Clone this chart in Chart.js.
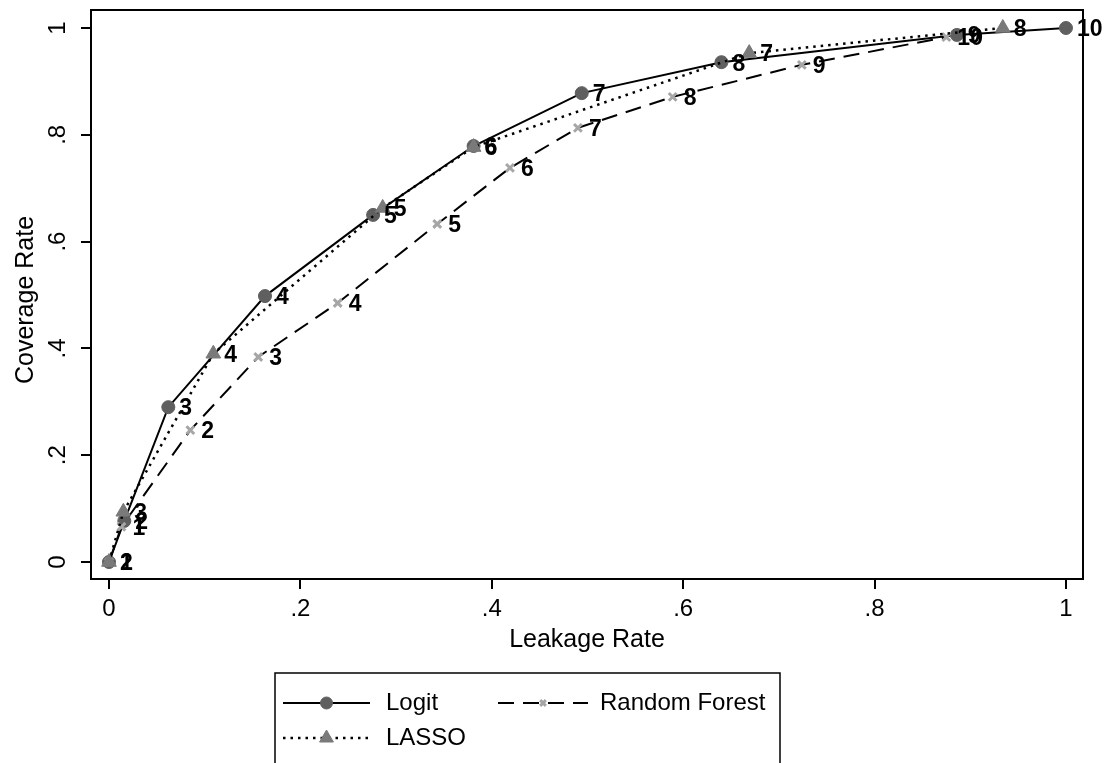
<!DOCTYPE html>
<html>
<head>
<meta charset="utf-8">
<script src="https://cdn.jsdelivr.net/npm/chart.js@4.4.1/dist/chart.umd.min.js"></script>
<style>
  html, body { margin: 0; padding: 0; background: #fff; }
  #wrap { width: 1109px; height: 763px; }
</style>
</head>
<body>
<div id="wrap"><canvas id="rocChart" width="1109" height="763"></canvas></div>
<script>
// --- DATA ---
const logitX = [0, 0.016, 0.062, 0.163, 0.276, 0.381, 0.494, 0.640, 0.886, 1.0];
const logitY = [0, 0.077, 0.290, 0.498, 0.650, 0.779, 0.878, 0.936, 0.987, 1.0];
const logitLabels = ['1', '2', '3', '4', '5', '6', '7', '8', '9', '10'];

const lassoX = [0, 0.015, 0.109, 0.286, 0.381, 0.669, 0.934];
const lassoY = [0, 0.094, 0.390, 0.663, 0.777, 0.953, 1.0];
const lassoLabels = ['2', '3', '4', '5', '6', '7', '8'];

const rfX = [0, 0.013, 0.085, 0.156, 0.239, 0.343, 0.419, 0.490, 0.589, 0.724, 0.875];
const rfY = [0, 0.066, 0.247, 0.384, 0.485, 0.633, 0.738, 0.813, 0.871, 0.931, 0.983];
const rfLabels = ['', '1', '2', '3', '4', '5', '6', '7', '8', '9', '10'];

const tickValues = [0, 0.2, 0.4, 0.6, 0.8, 1];
const tickText = ['0', '.2', '.4', '.6', '.8', '1'];

const FONT = '"Liberation Sans", Arial, sans-serif';

function toPoints(xs, ys) {
    return xs.map((x, i) => ({ x: x, y: ys[i] }));
}

// --- PLUGIN: frame, rotated y ticks, axis titles, marker labels, legend ---
const stataPlugin = {
    id: 'stataLook',
    afterDatasetsDraw(chart) {
        const ctx = chart.ctx;
        const xs = chart.scales.x;
        const ys = chart.scales.y;

        // marker labels (to the right of each point)
        ctx.save();
        ctx.fillStyle = '#000';
        ctx.font = 'bold 23px ' + FONT;
        ctx.textAlign = 'left';
        ctx.textBaseline = 'middle';
        chart.data.datasets.forEach(ds => {
            ds.data.forEach((p, i) => {
                const lab = ds.pointLabels[i];
                if (!lab) return;
                ctx.fillText(lab, xs.getPixelForValue(p.x) + 11, ys.getPixelForValue(p.y) + 2);
            });
        });
        ctx.restore();
    },
    afterDraw(chart) {
        const ctx = chart.ctx;
        const area = chart.chartArea;
        const ys = chart.scales.y;

        ctx.save();
        // plot frame
        ctx.strokeStyle = '#000';
        ctx.lineWidth = 2;
        ctx.strokeRect(area.left, area.top, area.right - area.left, area.bottom - area.top);

        // y tick labels, rotated
        ctx.fillStyle = '#000';
        ctx.font = '24px ' + FONT;
        ctx.textAlign = 'center';
        ctx.textBaseline = 'middle';
        tickValues.forEach((v, i) => {
            ctx.save();
            ctx.translate(58, ys.getPixelForValue(v));
            ctx.rotate(-Math.PI / 2);
            ctx.fillText(tickText[i], 0, 0);
            ctx.restore();
        });

        // axis titles
        ctx.font = '25px ' + FONT;
        ctx.fillText('Leakage Rate', 587, 640);
        ctx.save();
        ctx.translate(26, 300);
        ctx.rotate(-Math.PI / 2);
        ctx.fillText('Coverage Rate', 0, 0);
        ctx.restore();

        // legend box
        ctx.strokeStyle = '#000';
        ctx.lineWidth = 1.5;
        ctx.strokeRect(275, 673, 505, 110);
        const dsets = chart.data.datasets;
        const entries = [
            { ds: dsets[0], x0: 283, x1: 370, y: 703, tx: 386 },
            { ds: dsets[1], x0: 498, x1: 588, y: 703, tx: 600 },
            { ds: dsets[2], x0: 283, x1: 370, y: 738, tx: 386 }
        ];
        entries.forEach(e => {
            ctx.strokeStyle = '#000';
            ctx.lineWidth = e.ds.borderWidth;
            ctx.setLineDash(e.ds.borderDash || []);
            ctx.beginPath();
            ctx.moveTo(e.x0, e.y);
            ctx.lineTo(e.x1, e.y);
            ctx.stroke();
            ctx.setLineDash([]);

            const cx = (e.x0 + e.x1) / 2;
            ctx.fillStyle = e.ds.pointBackgroundColor;
            ctx.strokeStyle = e.ds.pointBorderColor;
            ctx.lineWidth = e.ds.pointBorderWidth;
            Chart.helpers.drawPoint(ctx, {
                pointStyle: e.ds.pointStyle,
                radius: e.ds.legendRadius,
                borderWidth: e.ds.pointBorderWidth,
                rotation: 0
            }, cx, e.y);

            ctx.fillStyle = '#000';
            ctx.font = '24px ' + FONT;
            ctx.textAlign = 'left';
            ctx.textBaseline = 'middle';
            ctx.fillText(e.ds.label, e.tx, e.y);
        });
        ctx.restore();
    }
};

const ctx = document.getElementById('rocChart');
window.rocChart = new Chart(ctx, {
    type: 'scatter',
    data: {
        datasets: [
            {
                label: 'Logit',
                data: toPoints(logitX, logitY),
                pointLabels: logitLabels,
                showLine: true,
                borderColor: '#000',
                borderWidth: 2,
                pointStyle: 'circle',
                pointRadius: 6.5,
                legendRadius: 6,
                pointBackgroundColor: '#5f5f5f',
                pointBorderColor: '#5f5f5f',
                pointBorderWidth: 1,
                order: 2
            },
            {
                label: 'Random Forest',
                data: toPoints(rfX, rfY),
                pointLabels: rfLabels,
                showLine: true,
                borderColor: '#000',
                borderWidth: 2,
                borderDash: [16, 9],
                pointStyle: 'crossRot',
                pointRadius: 5.5,
                legendRadius: 4,
                pointBackgroundColor: '#a6a6a6',
                pointBorderColor: '#a6a6a6',
                pointBorderWidth: 3,
                order: 1
            },
            {
                label: 'LASSO',
                data: toPoints(lassoX, lassoY),
                pointLabels: lassoLabels,
                showLine: true,
                borderColor: '#000',
                borderWidth: 2.5,
                borderDash: [2.5, 5],
                pointStyle: 'triangle',
                pointRadius: 8.5,
                legendRadius: 8,
                pointBackgroundColor: '#7a7a7a',
                pointBorderColor: '#7a7a7a',
                pointBorderWidth: 1,
                order: 0
            }
        ]
    },
    options: {
        responsive: false,
        animation: false,
        layout: { padding: { left: 0, top: 10, right: 26, bottom: 0 } },
        plugins: {
            legend: { display: false },
            tooltip: { enabled: false }
        },
        elements: { line: { tension: 0 } },
        scales: {
            x: {
                type: 'linear',
                min: -0.0188,
                max: 1.0178,
                afterBuildTicks: axis => { axis.ticks = tickValues.map(v => ({ value: v })); },
                afterFit: axis => { axis.height = 184; },
                border: { display: false },
                grid: { drawOnChartArea: false, drawTicks: true, tickLength: 10, tickColor: '#000', lineWidth: 2 },
                ticks: {
                    color: '#000',
                    font: { family: FONT, size: 24 },
                    padding: 6,
                    maxRotation: 0,
                    callback: v => tickText[tickValues.indexOf(Math.round(v * 10) / 10)]
                }
            },
            y: {
                type: 'linear',
                min: -0.0318,
                max: 1.0337,
                afterBuildTicks: axis => { axis.ticks = tickValues.map(v => ({ value: v })); },
                afterFit: axis => { axis.width = 91; },
                border: { display: false },
                grid: { drawOnChartArea: false, drawTicks: true, tickLength: 10, tickColor: '#000', lineWidth: 2 },
                ticks: { display: false }
            }
        }
    },
    plugins: [stataPlugin]
});
</script>
</body>
</html>
